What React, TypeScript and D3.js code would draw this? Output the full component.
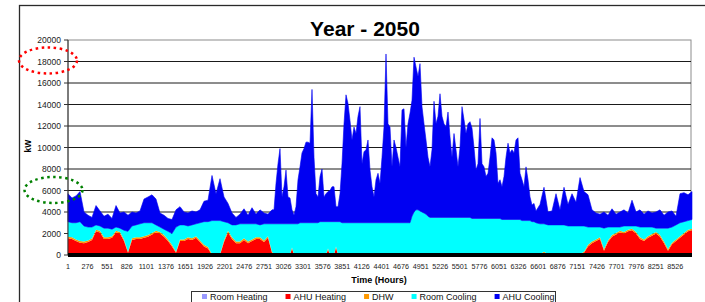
import React, { useRef, useEffect } from 'react';
import * as d3 from 'd3';

// loads (kW): a sample about every 56 h in the
// winter parts, about every 28 h through the busy cooling season
const roomHeating = [
  0, 0, 0, 0, 0, 0, 0, 0, 0, 0, 0, 0, 0, 0, 0, 0, 0, 0, 0, 0,
  0, 0, 0, 0, 0, 0, 0, 0, 0, 0, 0, 0, 0, 0, 0, 0, 0, 0, 0, 0,
  0, 0, 0, 0, 0, 0, 0, 0, 0, 0, 0, 0, 0, 0, 0, 0, 0, 0, 0, 0,
  0, 0, 0, 0, 0, 0, 0, 0, 0, 0, 0, 0, 0, 0, 0, 0, 0, 0, 0, 0,
  0, 0, 0, 0, 0, 0, 0, 0, 0, 0, 0, 0, 0, 0, 0, 0, 0, 0, 0, 0,
  0, 0, 0, 0, 0, 0, 0, 0, 0, 0, 0, 0, 0, 0, 0, 0, 0, 0, 0, 0,
  0, 0, 0, 0, 0, 0, 0, 0, 0, 0, 0, 0, 0, 0, 0, 0, 0, 0, 0, 0,
  0, 0, 0, 0, 0, 0, 0, 0, 0, 0, 0, 0, 0, 0, 0, 0, 0, 0, 0, 0,
  0, 0, 0, 0, 0, 0, 0, 0, 0, 0, 0, 0, 0, 0, 0, 0, 0, 0, 0, 0,
  0, 0, 0, 0, 0, 0, 0, 0, 0, 0, 0, 0, 0, 0, 0, 0, 0, 0, 0, 0,
  0, 0, 0, 0, 0, 0, 0, 0, 0, 0, 0, 0, 0, 0, 0, 0, 0, 0, 0, 0,
  0, 0, 0,
];

const ahuHeating = [
  // winter, early year
  1550, 1500, 1300, 1150, 1100, 1200, 1400, 2200, 2100, 1500,
  1500, 1600, 2100, 2000, 1300, 200, 1400, 1500, 1500, 1600,
  1700, 1900, 2100, 2000, 1700, 1300, 800, 200, 1300, 1300,
  1500, 1400, 1600, 1200, 800, 600, 0, 0, 0, 1200,
  2100, 1500, 1100, 1100, 1400, 1100, 1300, 1500, 1500, 1200,
  1600, 200,
  // cooling season
  0, 0, 0, 0, 0, 0, 0, 0, 0, 600,
  0, 0, 0, 0, 0, 0, 0, 0, 0, 0,
  0, 0, 0, 0, 0, 0, 0, 500, 0, 0,
  0, 700, 0, 0, 0, 0, 0, 0, 0, 0,
  0, 0, 0, 0, 0, 0, 0, 0, 0, 0,
  0, 0, 0, 0, 0, 0, 0, 0, 0, 0,
  0, 0, 0, 0, 0, 0, 0, 0, 0, 0,
  0, 0, 0, 0, 0, 0, 0, 0, 0, 0,
  0, 0, 0, 0, 0, 0, 0, 0, 0, 0,
  0, 0, 0, 0, 0, 0, 0, 0, 0, 0,
  0, 0, 0, 0, 0, 0, 0, 0, 0, 0,
  0, 0, 0, 0, 0, 0, 0, 0, 0, 0,
  0, 0, 0, 0, 0, 0, 0, 0, 0, 0,
  0,
  // autumn, winter
  0, 0, 200, 0, 0, 0, 0, 0, 0, 0,
  0, 0, 200, 800, 1100, 1300, 1500, 400, 1200, 1700,
  1900, 2100, 2000, 2200, 2300, 2000, 1500, 1300, 1600, 1800,
  2000, 1700, 1100, 400, 1000, 1300, 1600, 1900, 2200, 2300,
];

const dhw = [
  150, 150, 150, 150, 150, 150, 150, 150, 150, 150,
  150, 150, 150, 150, 150, 100, 150, 150, 150, 150,
  150, 150, 150, 150, 150, 150, 150, 100, 150, 150,
  150, 150, 150, 150, 150, 150, 100, 100, 100, 150,
  150, 150, 150, 150, 150, 150, 150, 150, 150, 150,
  150, 100,
  100, 100, 100, 100, 100, 100, 100, 100, 100, 100,
  100, 100, 100, 100, 100, 100, 100, 100, 100, 100,
  100, 100, 100, 100, 100, 100, 100, 100, 100, 100,
  100, 100, 100, 100, 100, 100, 100, 100, 100, 100,
  100, 100, 100, 100, 100, 100, 100, 100, 100, 100,
  100, 100, 100, 100, 100, 100, 100, 100, 100, 100,
  100, 100, 100, 100, 100, 100, 100, 100, 100, 100,
  100, 100, 100, 100, 100, 100, 100, 100, 100, 100,
  100, 100, 100, 100, 100, 100, 100, 100, 100, 100,
  100, 100, 100, 100, 100, 100, 100, 100, 100, 100,
  100, 100, 100, 100, 100, 100, 100, 100, 100, 100,
  100, 100, 100, 100, 100, 100, 100, 100, 100, 100,
  100, 100, 100, 100, 100, 100, 100, 100, 100, 100,
  100,
  100, 100, 100, 100, 100, 100, 100, 100, 100, 100,
  100, 100, 100, 150, 150, 150, 150, 150, 150, 150,
  150, 150, 150, 150, 150, 150, 150, 150, 150, 150,
  150, 150, 150, 150, 150, 150, 150, 150, 150, 150,
];

const roomCooling = [
  1400, 1350, 1550, 1800, 1450, 1250, 1050, 450, 450, 850,
  850, 650, 350, 350, 850, 1900, 1150, 1150, 1250, 1250,
  1150, 950, 550, 450, 550, 750, 1050, 2300, 1350, 1350,
  1050, 1250, 1150, 1650, 2150, 2350, 3100, 3100, 3100, 1750,
  750, 1150, 1550, 1650, 1350, 1650, 1450, 1250, 1150, 1550,
  1150, 2600,
  2800, 2800, 2800, 2800, 2800, 2800, 2800, 2800, 2800, 2200,
  2800, 2800, 2800,
  2900, 2900, 2900, 2900, 2900, 2900, 2900, 2900, 2900, 2900,
  3000, 3000, 3000, 3000, 2500, 3000, 3000, 3000, 2300, 3000,
  3000,
  2900, 2900, 2900, 2900, 2900, 2900, 2900, 2900, 2900, 2900,
  2900, 2900, 2900, 2900, 2900, 2900, 2900, 2900, 2900, 2900,
  2900, 2900, 2900, 2900, 2900, 2900, 2900, 2900, 2900, 2900,
  2900, 2900, 2900, 2900, 2900,
  3500, 3900, 4100, 4100, 4000, 3900, 3800, 3700, 3500,
  3400, 3400, 3400, 3400, 3400, 3400, 3400, 3400, 3400, 3400,
  3400, 3400, 3400, 3400, 3400, 3400, 3400, 3400, 3400, 3400,
  3400,
  3300, 3300, 3300, 3300, 3300, 3300, 3300, 3300, 3300, 3300,
  3300, 3300, 3300, 3300, 3300,
  3200, 3200, 3200, 3200, 3200, 3200, 3200, 3200, 3200, 3200,
  3100, 3100, 3100, 3100, 3100,
  3000, 3000,
  2900, 2800, 2600, 2700, 2700, 2700, 2700, 2700, 2600, 2600,
  2600, 2600, 2400, 1650, 1350, 1150, 950, 1950, 1250, 750,
  550, 350, 550, 350, 250, 550, 950, 1150, 850, 650,
  350, 650, 1250, 1950, 1450, 1350, 1250, 1050, 850, 850,
];

const ahuCooling = [
  2600, 2300, 2500, 2800, 1300, 1100, 900, 1800, 1400, 1100,
  1300, 1000, 2000, 1400, 1700, 1500, 1300, 1100, 1200, 2200,
  2400, 2600, 2400, 1300, 1300, 1200, 1300, 1600, 1700, 1200,
  1200, 1300, 1100, 1200, 1900, 2000, 4200, 2500, 3900, 2300,
  1800, 1100, 700, 900, 1400, 800, 1500, 900, 1400, 1000,
  900, 1300,
  1300, 3750, 5600, 7000, 2500, 3450, 5000, 2500, 2400, 1300,
  800, 1600, 4100, 5200, 6500, 6900, 7500, 7500, 7400, 12400,
  6100, 2700, 2400, 4200, 4900, 2300, 2600, 2800, 2900, 3250,
  3250, 1400, 1400, 2600, 5500, 9200, 11900, 11100, 9500, 7700,
  8900, 8300, 9900, 10800, 5500, 6600, 6800, 7700, 4900, 3350,
  2400, 4000, 4600, 3650, 6100, 8900, 15700, 9200, 8900, 5200,
  7700, 7000, 6100, 5200, 10500, 10600, 7000, 9200, 10200, 10800,
  14400, 13300, 12400, 13700, 9800, 8300, 6900, 5500, 4700, 6300,
  10800, 8700, 9400, 11500, 9400, 8700, 8400, 9800, 7500, 5600,
  7800, 6300, 4700, 6500, 10300, 9100, 7800, 8700, 8900, 8400,
  6600, 4500, 5100, 9300, 5100, 4800, 3900, 4200, 5700, 7500,
  7300, 6100, 3250, 3600, 3050, 4000, 5800, 7100, 6200, 6500,
  6200, 7400, 7600, 4300, 3800, 3150, 5000, 3800, 2200, 1550,
  1700,
  1100, 1800, 3400, 1200, 1300, 2900, 1400, 3500, 2000, 3000,
  2200, 4500, 3200, 3000, 1600, 1300, 1200, 1500, 1100, 1700,
  1200, 1400, 1500, 1200, 2400, 1300, 1600, 1200, 1500, 1300,
  1500, 1700, 1200, 1500, 1500, 800, 2700, 2700, 2400, 2600,
];

const seriesNames = ['Room Heating', 'AHU Heating', 'DHW', 'Room Cooling', 'AHU Cooling'];
const seriesColors = ['#9999ff', '#ff0000', '#ff9900', '#00ffff', '#0000f2'];

const yTicks = [0, 2000, 4000, 6000, 8000, 10000, 12000, 14000, 16000, 18000, 20000];
const xTicks = [
  1, 276, 551, 826, 1101, 1376, 1651, 1926, 2201, 2476, 2751, 3026, 3301, 3576, 3851, 4126,
  4401, 4676, 4951, 5226, 5501, 5776, 6051, 6326, 6601, 6876, 7151, 7426, 7701, 7976, 8251, 8526,
];

// hour of each sample: coarse steps, finer steps through the cooling season
const coarseStep = 8759 / 156;
const sampleHours = [
  ...d3.range(52).map((i) => 1 + i * coarseStep),
  ...d3.range(131).map((i) => 1 + ((103 + i) * coarseStep) / 2),
  ...d3.range(40).map((i) => 1 + (117 + i) * coarseStep),
];

const FONT = 'Arial, "Liberation Sans", sans-serif';

const App = () => {
  const ref = useRef<SVGSVGElement>(null);

  useEffect(() => {
    const width = 705;
    const height = 302;
    const left = 68;
    const right = 692;
    const top = 40;
    const bottom = 255;

    const svg = d3.select(ref.current).attr('width', width).attr('height', height);
    svg.selectAll('*').remove();

    const x = d3.scaleLinear().domain([1, 8760]).range([left, right]);
    const y = d3.scaleLinear().domain([0, 20000]).range([bottom, top]);

    // outer chart frame
    svg.append('rect')
      .attr('x', 19.5).attr('y', 5.5)
      .attr('width', 720).attr('height', 320)
      .attr('fill', 'white')
      .attr('stroke', '#2a2a2a')
      .attr('stroke-width', 1.3);

    // title
    svg.append('text')
      .attr('x', 365).attr('y', 36)
      .attr('text-anchor', 'middle')
      .attr('font-family', FONT)
      .attr('font-weight', 'bold')
      .attr('font-size', 21)
      .text('Year - 2050');

    // plot border
    svg.append('rect')
      .attr('x', left).attr('y', top)
      .attr('width', right - left - 1).attr('height', bottom - top)
      .attr('fill', 'none')
      .attr('stroke', '#8c8c8c');

    // gridlines
    svg.append('g')
      .selectAll('line')
      .data(yTicks.filter((v) => v > 0 && v < 20000))
      .join('line')
      .attr('x1', left).attr('x2', right - 1)
      .attr('y1', (d) => y(d)).attr('y2', (d) => y(d))
      .attr('stroke', '#1a1a1a')
      .attr('stroke-width', 1);

    // stacked areas
    const rows = sampleHours.map((h, i) => ({
      h,
      s0: roomHeating[i],
      s1: ahuHeating[i],
      s2: dhw[i],
      s3: roomCooling[i],
      s4: ahuCooling[i],
    }));
    const layers = d3.stack<any>().keys(['s0', 's1', 's2', 's3', 's4'])(rows);

    const area = d3.area<any>()
      .x((d) => x(d.data.h))
      .y0((d) => y(d[0]))
      .y1((d) => y(d[1]));

    svg.append('g')
      .selectAll('path')
      .data(layers)
      .join('path')
      .attr('fill', (_, k) => seriesColors[k])
      .attr('stroke', (_, k) => (k === 4 ? '#0000f2' : 'none'))
      .attr('stroke-width', 0.6)
      .attr('d', (d) => area(d as any));

    // y axis
    svg.append('line')
      .attr('x1', left).attr('x2', left)
      .attr('y1', top).attr('y2', bottom)
      .attr('stroke', '#333');

    const yAxis = svg.append('g');
    yAxis.selectAll('line')
      .data(yTicks)
      .join('line')
      .attr('x1', left - 4).attr('x2', left)
      .attr('y1', (d) => y(d)).attr('y2', (d) => y(d))
      .attr('stroke', '#333');
    yAxis.selectAll('text')
      .data(yTicks)
      .join('text')
      .attr('x', 61)
      .attr('y', (d) => y(d) + 3)
      .attr('text-anchor', 'end')
      .attr('font-family', FONT)
      .attr('font-size', 8.5)
      .attr('fill', '#222')
      .text((d) => d);

    // thick category axis
    svg.append('line')
      .attr('x1', left).attr('x2', right)
      .attr('y1', bottom).attr('y2', bottom)
      .attr('stroke', '#000')
      .attr('stroke-width', 4);

    svg.append('g')
      .selectAll('text')
      .data(xTicks)
      .join('text')
      .attr('x', (d) => x(d))
      .attr('y', 268.5)
      .attr('text-anchor', 'middle')
      .attr('font-family', FONT)
      .attr('font-size', 7.2)
      .attr('fill', '#222')
      .text((d) => d);

    // axis titles
    svg.append('text')
      .attr('transform', 'translate(31,146) rotate(-90)')
      .attr('text-anchor', 'middle')
      .attr('font-family', FONT)
      .attr('font-weight', 'bold')
      .attr('font-size', 8.5)
      .text('kW');

    svg.append('text')
      .attr('x', 379).attr('y', 282.5)
      .attr('text-anchor', 'middle')
      .attr('font-family', FONT)
      .attr('font-weight', 'bold')
      .attr('font-size', 9)
      .text('Time (Hours)');

    // legend
    svg.append('rect')
      .attr('x', 191.5).attr('y', 291.5)
      .attr('width', 364).attr('height', 16)
      .attr('fill', 'white')
      .attr('stroke', '#333');

    let lx = 202;
    seriesNames.forEach((name, k) => {
      svg.append('rect')
        .attr('x', lx).attr('y', 294)
        .attr('width', 5).attr('height', 5)
        .attr('fill', seriesColors[k]);
      const t = svg.append('text')
        .attr('x', lx + 8).attr('y', 300)
        .attr('font-family', FONT)
        .attr('font-size', 9)
        .attr('fill', '#111')
        .text(name);
      const w = (t.node() as SVGTextElement).getComputedTextLength();
      lx += 8 + w + 18;
    });

    // dotted highlight ellipses
    svg.append('ellipse')
      .attr('cx', 48).attr('cy', 60.5)
      .attr('rx', 29).attr('ry', 13)
      .attr('fill', 'none')
      .attr('stroke', '#ff0000')
      .attr('stroke-width', 2.5)
      .attr('stroke-dasharray', '2.5 3.5');

    svg.append('ellipse')
      .attr('cx', 53.5).attr('cy', 190)
      .attr('rx', 29).attr('ry', 13)
      .attr('fill', 'none')
      .attr('stroke', '#008000')
      .attr('stroke-width', 2.5)
      .attr('stroke-dasharray', '2.5 3.5');
  }, []);

  return <svg ref={ref} width={705} height={302} style={{ position: 'absolute', left: 0, top: 0 }} />;
};

export default App;
